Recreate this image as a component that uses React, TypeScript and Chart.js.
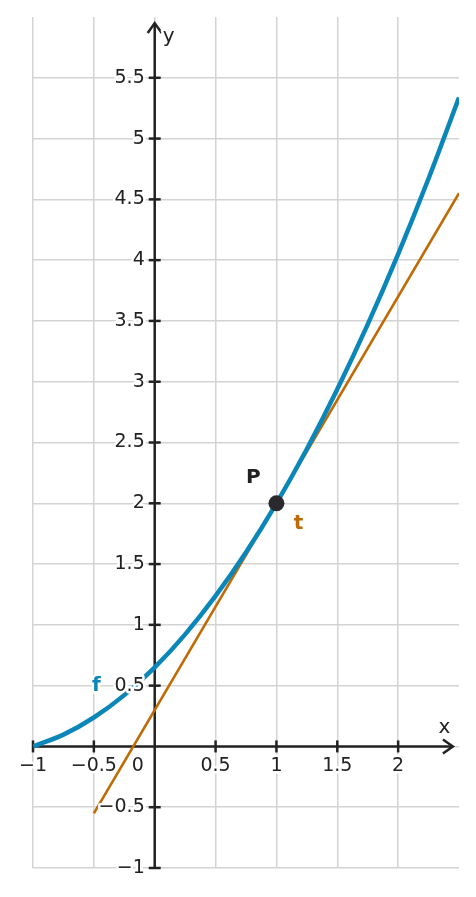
import React, { useEffect, useRef } from "react";
import { Chart, registerables } from "chart.js";

Chart.register(...registerables);

const curveX = [-1, -0.75, -0.5, -0.25, 0, 0.25, 0.5, 0.75, 1, 1.25, 1.5, 1.75, 2, 2.25, 2.5];
const curveY = [0, 0.097, 0.238, 0.422, 0.65, 0.922, 1.238, 1.597, 2, 2.447, 2.938, 3.472, 4.05, 4.672, 5.338];
const tangentX = [-0.5, 2.5];
const tangentY = [-0.55, 4.55];
const pointP = { x: 1, y: 2 };
const xTicks = [-1, -0.5, 0.5, 1, 1.5, 2];
const xTickLabels = ["−1", "−0.5", "0.5", "1", "1.5", "2"];
const yTicks = [-1, -0.5, 0.5, 1, 1.5, 2, 2.5, 3, 3.5, 4, 4.5, 5, 5.5];
const yTickLabels = ["−1", "−0.5", "0.5", "1", "1.5", "2", "2.5", "3", "3.5", "4", "4.5", "5", "5.5"];

const BLUE = "#0a86b9";
const ORANGE = "#bf6a05";
const DARK = "#222222";
const FONT = "DejaVu Sans";

const axesPlugin = {
  id: "axesPlugin",
  beforeDatasetsDraw(chart: any) {
    const { ctx } = chart;
    const xs = chart.scales.x;
    const ys = chart.scales.y;
    const x0 = xs.getPixelForValue(0);
    const y0 = ys.getPixelForValue(0);
    ctx.save();
    ctx.strokeStyle = DARK;
    ctx.lineWidth = 2.5;
    ctx.lineCap = "butt";
    ctx.beginPath();
    ctx.moveTo(xs.getPixelForValue(-1), y0);
    ctx.lineTo(xs.getPixelForValue(2.45), y0);
    ctx.stroke();
    ctx.beginPath();
    ctx.moveTo(x0, ys.getPixelForValue(-1));
    ctx.lineTo(x0, ys.getPixelForValue(5.95));
    ctx.stroke();
    const ax = xs.getPixelForValue(2.45);
    ctx.beginPath();
    ctx.moveTo(ax - 10, y0 - 7);
    ctx.lineTo(ax, y0);
    ctx.lineTo(ax - 10, y0 + 7);
    ctx.stroke();
    const ay = ys.getPixelForValue(5.95);
    ctx.beginPath();
    ctx.moveTo(x0 - 7, ay + 10);
    ctx.lineTo(x0, ay);
    ctx.lineTo(x0 + 7, ay + 10);
    ctx.stroke();
    xTicks.forEach((v) => {
      const px = xs.getPixelForValue(v);
      ctx.beginPath();
      ctx.moveTo(px, y0 - 6);
      ctx.lineTo(px, y0 + 6);
      ctx.stroke();
    });
    yTicks.forEach((v) => {
      const py = ys.getPixelForValue(v);
      ctx.beginPath();
      ctx.moveTo(x0 - 6, py);
      ctx.lineTo(x0 + 6, py);
      ctx.stroke();
    });
    ctx.restore();
  },
  afterDraw(chart: any) {
    const { ctx } = chart;
    const xs = chart.scales.x;
    const ys = chart.scales.y;
    const x0 = xs.getPixelForValue(0);
    const y0 = ys.getPixelForValue(0);
    ctx.save();
    ctx.font = `19px "${FONT}"`;
    ctx.lineJoin = "round";
    const halo = (t: string, x: number, y: number, color: string) => {
      ctx.strokeStyle = "#ffffff";
      ctx.lineWidth = 5;
      ctx.strokeText(t, x, y);
      ctx.fillStyle = color;
      ctx.fillText(t, x, y);
    };
    ctx.textAlign = "center";
    ctx.textBaseline = "middle";
    xTicks.forEach((v, i) => {
      halo(xTickLabels[i], xs.getPixelForValue(v), y0 + 20, DARK);
    });
    halo("0", x0 - 17, y0 + 20, DARK);
    ctx.textAlign = "right";
    yTicks.forEach((v, i) => {
      halo(yTickLabels[i], x0 - 10, ys.getPixelForValue(v), DARK);
    });
    ctx.textAlign = "center";
    ctx.font = `20px "${FONT}"`;
    halo("x", xs.getPixelForValue(2.38), y0 - 19, DARK);
    halo("y", x0 + 14, ys.getPixelForValue(5.84), DARK);
    ctx.font = `bold 20px "${FONT}"`;
    halo("P", xs.getPixelForValue(pointP.x) - 23, ys.getPixelForValue(pointP.y) - 25, DARK);
    halo("t", xs.getPixelForValue(pointP.x) + 22, ys.getPixelForValue(pointP.y) + 21, ORANGE);
    halo("f", xs.getPixelForValue(-0.48), ys.getPixelForValue(0.5), BLUE);
    ctx.restore();
  },
};

export default function App() {
  const ref = useRef<HTMLCanvasElement | null>(null);
  useEffect(() => {
    if (!ref.current) return;
    const chart = new Chart(ref.current, {
      type: "scatter",
      data: {
        datasets: [
          {
            label: "t",
            data: tangentX.map((x, i) => ({ x, y: tangentY[i] })),
            showLine: true,
            borderColor: ORANGE,
            borderWidth: 2.6,
            pointRadius: 0,
            order: 2,
          },
          {
            label: "f",
            data: curveX.map((x, i) => ({ x, y: curveY[i] })),
            showLine: true,
            borderColor: BLUE,
            borderWidth: 4.5,
            pointRadius: 0,
            cubicInterpolationMode: "monotone",
            order: 1,
          },
          {
            label: "P",
            data: [pointP],
            pointRadius: 8,
            pointBackgroundColor: "#2a2a2e",
            pointBorderWidth: 0,
            order: 0,
          },
        ],
      },
      options: {
        animation: false,
        responsive: false,
        maintainAspectRatio: false,
        layout: { padding: { left: 33, right: 17, top: 17, bottom: 29 } },
        plugins: { legend: { display: false }, tooltip: { enabled: false } },
        scales: {
          x: {
            type: "linear",
            min: -1,
            max: 2.5,
            border: { display: false },
            ticks: { display: false, stepSize: 0.5 },
            grid: {
              color: (c: any) => (c.tick && c.tick.value > 2.01 ? "rgba(0,0,0,0)" : "#d3d3d3"),
              lineWidth: 1.5,
              drawTicks: false,
            },
          },
          y: {
            type: "linear",
            min: -1,
            max: 6,
            border: { display: false },
            ticks: { display: false, stepSize: 0.5 },
            grid: {
              color: (c: any) => (c.tick && c.tick.value > 5.51 ? "rgba(0,0,0,0)" : "#d3d3d3"),
              lineWidth: 1.5,
              drawTicks: false,
            },
          },
        },
      },
      plugins: [axesPlugin],
    } as any);
    return () => chart.destroy();
  }, []);
  return (
    <div style={{ position: "fixed", left: 0, top: 0, width: 476, height: 897, background: "#fff" }}>
      <canvas ref={ref} width={476} height={897} style={{ width: 476, height: 897, display: "block" }} />
    </div>
  );
}
